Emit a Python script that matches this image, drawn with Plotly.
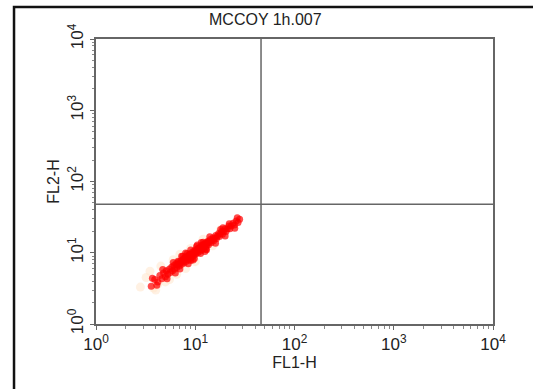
import plotly.graph_objects as go

title_text = "MCCOY 1h.007"
x_label = "FL1-H"
y_label = "FL2-H"
tick_vals = [1, 10, 100, 1000, 10000]
tick_text = ["10<sup>0</sup>", "10<sup>1</sup>", "10<sup>2</sup>", "10<sup>3</sup>", "10<sup>4</sup>"]
minor_vals = [m * d for d in [1, 10, 100, 1000] for m in [2, 3, 4, 5, 6, 7, 8, 9]]
quad_x = 46
quad_y = 48

# main red event cloud (FL1, FL2)
fl1 = [3.6, 3.9, 4.2, 4.4, 4.6, 4.8, 5.0, 5.1, 5.3, 5.5, 5.6, 5.8, 5.9, 6.1, 6.2, 6.4, 6.5, 6.6,
       6.8, 6.9, 7.0, 7.2, 7.3, 7.4, 7.6, 7.7, 7.8, 8.0, 8.1, 8.2, 8.4, 8.5, 8.6, 8.8, 8.9, 9.0,
       9.2, 9.3, 9.4, 9.6, 9.7, 9.8, 10.0, 10.1, 10.2, 10.5, 10.6, 10.7, 11.0, 11.1, 11.2, 11.5,
       11.6, 11.8, 12.1, 12.2, 12.4, 12.7, 12.9, 13.1, 13.4, 13.6, 13.8, 14.2, 14.4, 14.7, 15.1,
       15.3, 15.6, 16.1, 16.3, 16.7, 17.2, 17.5, 17.9, 18.5, 18.8, 19.3, 20.0, 20.4, 21.0, 21.8,
       22.3, 23.0, 24.0, 24.8, 25.8, 27.0, 28.0,
       8.3, 9.0, 10.3, 11.3, 12.0, 12.8, 7.5, 9.8, 8.7, 10.8, 11.9, 13.3, 6.7, 7.9,
       5.2, 6.0, 7.0, 8.0, 9.5, 10.5, 12.5, 14.0, 16.0, 18.0, 20.0, 6.3, 4.7, 11.5, 13.0,
       22.0, 25.0, 8.5, 9.0, 7.3, 4.1, 3.7, 26.5, 19.0]
fl2 = [3.4, 4.2, 3.9, 4.8, 4.3, 5.2, 4.6, 5.6, 5.0, 5.9, 5.3, 6.3, 5.6, 6.6, 5.9, 7.0, 6.2, 6.8,
       7.4, 6.5, 7.1, 7.8, 6.9, 7.5, 8.2, 7.2, 7.9, 8.6, 7.6, 8.3, 9.0, 8.0, 8.7, 9.5, 8.4, 9.1,
       10.0, 8.8, 9.6, 10.4, 9.2, 10.0, 10.9, 9.6, 10.4, 11.3, 10.0, 10.9, 11.8, 10.5, 11.4, 12.4,
       11.0, 12.0, 13.0, 11.6, 12.6, 13.7, 12.3, 13.3, 14.5, 13.0, 14.1, 15.3, 13.8, 15.0, 16.3,
       14.7, 15.9, 17.4, 15.7, 17.0, 18.6, 16.9, 18.3, 20.0, 18.2, 19.8, 21.7, 19.8, 21.6, 23.7,
       21.7, 23.8, 26.0, 24.5, 27.8, 26.5, 29.5,
       9.8, 7.8, 12.2, 9.8, 14.0, 11.2, 8.9, 8.3, 9.4, 11.6, 12.9, 14.0, 7.6, 8.6,
       4.3, 7.3, 5.9, 9.9, 7.9, 12.8, 10.4, 16.8, 13.6, 21.2, 17.2, 5.2, 5.8, 13.9, 11.0,
       25.5, 22.0, 7.0, 10.9, 8.9, 3.5, 4.4, 31.0, 22.5]

# faint halo events
halo_fl1 = [3.2, 4.0, 5.5, 6.0, 4.5, 8.0, 7.0, 10.0, 12.0, 15.0, 3.5, 2.8, 4.2, 5.0, 9.0, 18.0, 3.8, 6.5]
halo_fl2 = [4.5, 3.0, 4.2, 8.0, 6.5, 6.0, 9.5, 7.5, 15.5, 12.5, 5.5, 3.3, 3.6, 3.9, 11.5, 21.0, 3.2, 5.0]

fig = go.Figure()
fig.add_trace(go.Scatter(x=halo_fl1, y=halo_fl2, mode="markers",
                         marker=dict(size=9, color="#ffe6cc", opacity=0.55, line=dict(width=0)),
                         hoverinfo="skip", showlegend=False))
fig.add_trace(go.Scatter(x=fl1, y=fl2, mode="markers",
                         marker=dict(size=7, color="#ff0000", opacity=0.7, line=dict(width=0)),
                         showlegend=False))
# quadrant lines
fig.add_trace(go.Scatter(x=[quad_x, quad_x], y=[1, 10000], mode="lines",
                         line=dict(color="#666666", width=1.5), hoverinfo="skip", showlegend=False))
fig.add_trace(go.Scatter(x=[1, 10000], y=[quad_y, quad_y], mode="lines",
                         line=dict(color="#666666", width=1.5), hoverinfo="skip", showlegend=False))

font_family = "Liberation Sans, Arial, sans-serif"
fig.update_layout(
    width=533, height=389,
    margin=dict(l=96, r=40, t=39, b=65),
    paper_bgcolor="white", plot_bgcolor="white",
    font=dict(family=font_family, size=16, color="#222222"),
    xaxis=dict(type="log", range=[0, 4], tickvals=tick_vals, ticktext=tick_text,
               automargin=False,
               showgrid=False, zeroline=False, showline=True, linecolor="#666666", linewidth=1.5,
               mirror=True, ticks="outside", ticklen=4, tickcolor="#666666",
               minor=dict(tickvals=minor_vals, ticks="outside", ticklen=3, tickcolor="#888888",
                          showgrid=False),
               title=dict(text=x_label, standoff=2, font=dict(size=16)),
               tickfont=dict(size=17)),
    yaxis=dict(type="log", range=[0, 4], tickvals=tick_vals, ticktext=tick_text,
               automargin=False,
               showgrid=False, zeroline=False, showline=True, linecolor="#666666", linewidth=1.5,
               mirror=True, ticks="outside", ticklen=4, tickcolor="#666666",
               minor=dict(tickvals=minor_vals, ticks="outside", ticklen=2, tickcolor="#888888",
                          showgrid=False),
               tickangle=-90,
               title=dict(text=y_label, standoff=2, font=dict(size=16)),
               tickfont=dict(size=17)),
    annotations=[dict(text=title_text, xref="paper", yref="paper", x=0.426, y=1.067,
                      showarrow=False, font=dict(size=16, color="#222222"),
                      xanchor="center", yanchor="middle")],
    shapes=[
        dict(type="rect", xref="paper", yref="paper", x0=-0.2065, x1=1.2, y0=-0.35, y1=1.112,
             line=dict(color="#111111", width=2.5), fillcolor="rgba(0,0,0,0)", layer="above"),
    ],
)

fig.write_html("out.html", config={"displayModeBar": False},
               post_script="document.body.style.margin='0px';")
